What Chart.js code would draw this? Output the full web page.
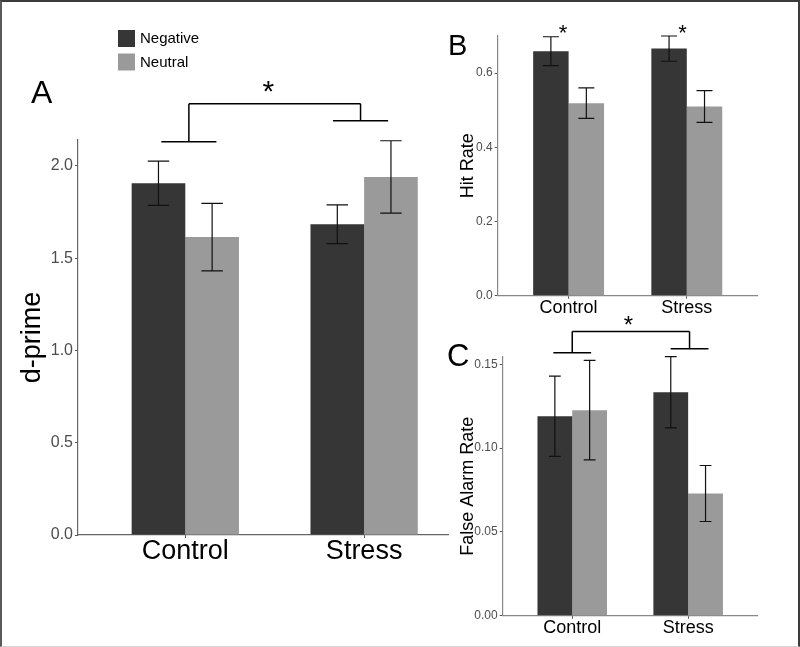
<!DOCTYPE html>
<html>
<head>
<meta charset="utf-8">
<script src="https://cdn.jsdelivr.net/npm/chart.js@4.4.1/dist/chart.umd.min.js"></script>
<style>
  html, body { margin: 0; padding: 0; background: #fff; }
  #frame { position: relative; width: 800px; height: 647px; overflow: hidden; }
  #border {
    position: absolute; left: 0; top: 0; width: 800px; height: 647px; box-sizing: border-box;
    border-left: 2px solid #5a5a5a; border-top: 2px solid #3c3c3c;
    border-right: 2px solid #3c3c3c; border-bottom: 1px solid #d4d4d4;
    pointer-events: none;
  }
  canvas { position: absolute; }
</style>
</head>
<body>
<div id="frame">
  <canvas id="chartA" width="450" height="647" style="left:0;top:0"></canvas>
  <canvas id="chartB" width="355" height="320" style="left:440px;top:0"></canvas>
  <canvas id="chartC" width="355" height="340" style="left:440px;top:300px"></canvas>
  <div id="border"></div>
</div>
<script>
const groups = ['Control', 'Stress'];
const seriesNames = ['Negative', 'Neutral'];
const seriesColors = ['#363636', '#9a9a9a'];

// A: d-prime (mean, standard error)
const dprimeNegative = [1.906, 1.684];
const dprimeNeutral = [1.614, 1.940];
const dprimeNegativeSE = [0.120, 0.105];
const dprimeNeutralSE = [0.183, 0.196];
const dprimeTicks = [0, 0.5, 1.0, 1.5, 2.0];

// B: hit rate
const hitNegative = [0.659, 0.666];
const hitNeutral = [0.519, 0.510];
const hitNegativeSE = [0.039, 0.034];
const hitNeutralSE = [0.041, 0.043];
const hitTicks = [0, 0.2, 0.4, 0.6];

// C: false alarm rate
const faNegative = [0.1190, 0.1333];
const faNeutral = [0.1226, 0.0729];
const faNegativeSE = [0.0239, 0.0212];
const faNeutralSE = [0.0297, 0.0167];
const faTicks = [0, 0.05, 0.10, 0.15];

// significance marks, in group units (x) and axis units (y)
const dprimeBracketX = [1.02, 1.98];
const dprimeBracketFeet = [2.13, 2.244];
const dprimeBracketTop = 2.336;
const dprimeStar = [1.464, 2.428];
const hitStarsX = [0.953, 1.963];
const hitStarsY = [0.72, 0.72];
const faBracketX = [1.0, 2.012];
const faBracketFeet = [0.1568, 0.1592];
const faBracketTop = 0.1696;
const faStar = [1.485, 0.176];

const FONT = '"Liberation Sans", Arial, Helvetica, sans-serif';
Chart.defaults.font.family = FONT;

const errorBarPlugin = {
    id: 'errorBars',
    afterDatasetsDraw(chart, args, opts) {
        const ctx = chart.ctx;
        const y = chart.scales.y;
        ctx.save();
        ctx.strokeStyle = '#111';
        ctx.lineWidth = 1.2;
        chart.data.datasets.forEach((ds, k) => {
            chart.getDatasetMeta(k).data.forEach((bar, i) => {
                const v = ds.data[i].y;
                const e = opts.se[k][i];
                const top = y.getPixelForValue(v + e);
                const bot = y.getPixelForValue(v - e);
                const half = bar.width * opts.cap / 2;
                ctx.beginPath();
                ctx.moveTo(bar.x, top); ctx.lineTo(bar.x, bot);
                ctx.moveTo(bar.x - half, top); ctx.lineTo(bar.x + half, top);
                ctx.moveTo(bar.x - half, bot); ctx.lineTo(bar.x + half, bot);
                ctx.stroke();
            });
        });
        ctx.restore();
    }
};

function drawStar(ctx, x, y, size) {
    ctx.font = `${size}px ${FONT}`;
    ctx.textAlign = 'center';
    ctx.textBaseline = 'alphabetic';
    const m = ctx.measureText('*');
    ctx.fillStyle = '#000';
    ctx.fillText('*', x, y + (m.actualBoundingBoxAscent - m.actualBoundingBoxDescent) / 2);
}

function drawLetter(ctx, text, x, baseline, size) {
    ctx.font = `${size}px ${FONT}`;
    ctx.textAlign = 'left';
    ctx.textBaseline = 'alphabetic';
    ctx.fillStyle = '#000';
    ctx.fillText(text, x, baseline);
}

function drawBracket(chart, xs, feet, top, half) {
    const X = chart.scales.x, Y = chart.scales.y, ctx = chart.ctx;
    const yTop = Y.getPixelForValue(top);
    ctx.save();
    ctx.strokeStyle = '#000';
    ctx.lineWidth = 1.5;
    ctx.beginPath();
    xs.forEach((gx, i) => {
        const fy = Y.getPixelForValue(feet[i]);
        ctx.moveTo(X.getPixelForValue(gx - half), fy);
        ctx.lineTo(X.getPixelForValue(gx + half), fy);
        ctx.moveTo(X.getPixelForValue(gx), fy);
        ctx.lineTo(X.getPixelForValue(gx), yTop);
    });
    ctx.moveTo(X.getPixelForValue(xs[0]), yTop);
    ctx.lineTo(X.getPixelForValue(xs[1]), yTop);
    ctx.stroke();
    ctx.restore();
}

function makeChart(id, p) {
    const values = [p.negative, p.neutral];
    return new Chart(document.getElementById(id), {
        type: 'bar',
        data: {
            datasets: seriesNames.map((name, k) => ({
                label: name,
                data: groups.map((g, i) => ({ x: i + 1, y: values[k][i] })),
                backgroundColor: seriesColors[k],
                borderWidth: 0,
                categoryPercentage: 0.6,
                barPercentage: 1.0
            }))
        },
        options: {
            responsive: false,
            animation: false,
            events: [],
            layout: { padding: p.padding },
            plugins: {
                legend: { display: false },
                tooltip: { enabled: false },
                errorBars: { se: [p.negativeSE, p.neutralSE], cap: p.cap }
            },
            scales: {
                x: {
                    type: 'linear',
                    min: 0.4,
                    max: p.xMax,
                    offset: false,
                    bounds: 'data',
                    afterFit: s => { s.height = p.xHeight; },
                    afterBuildTicks: s => { s.ticks = groups.map((g, i) => ({ value: i + 1 })); },
                    ticks: {
                        callback: v => groups[v - 1],
                        color: '#000',
                        font: { size: p.catSize, lineHeight: 1 },
                        padding: 0,
                        maxRotation: 0,
                        autoSkip: false
                    },
                    grid: { drawOnChartArea: false, tickLength: 3, color: '#555', offset: false },
                    border: { color: p.axisColor, width: 1.2 }
                },
                y: {
                    min: 0,
                    max: p.yMax,
                    bounds: 'data',
                    afterFit: s => { s.width = p.yWidth; },
                    afterBuildTicks: s => { s.ticks = p.ticks.map(v => ({ value: v })); },
                    ticks: {
                        callback: v => v.toFixed(p.decimals),
                        color: '#4d4d4d',
                        font: { size: p.tickSize },
                        padding: 2
                    },
                    grid: { drawOnChartArea: false, tickLength: 3, color: '#555' },
                    border: { color: p.axisColor, width: 1.2 },
                    title: {
                        display: true,
                        text: p.yTitle,
                        color: '#000',
                        font: { size: p.titleSize },
                        padding: { top: p.titlePad, bottom: 0 }
                    }
                }
            }
        },
        plugins: [errorBarPlugin, { id: 'extras', afterDraw: p.extras }]
    });
}

makeChart('chartA', {
    negative: dprimeNegative, neutral: dprimeNeutral,
    negativeSE: dprimeNegativeSE, neutralSE: dprimeNeutralSE,
    ticks: dprimeTicks, decimals: 1, yMax: 2.14, xMax: 2.469,
    padding: { top: 140, right: 2, left: 0, bottom: 0 },
    yWidth: 78, xHeight: 112, cap: 0.4, axisColor: '#666',
    yTitle: 'd-prime', titleSize: 27, titlePad: 16, tickSize: 16, catSize: 27,
    extras(chart) {
        const ctx = chart.ctx;
        drawBracket(chart, dprimeBracketX, dprimeBracketFeet, dprimeBracketTop, 0.154);
        drawStar(ctx, chart.scales.x.getPixelForValue(dprimeStar[0]), chart.scales.y.getPixelForValue(dprimeStar[1]), 30);
        drawLetter(ctx, 'A', 31, 103, 32);
        // legend
        ctx.save();
        seriesNames.forEach((name, k) => {
            const top = 30 + k * 23.5;
            ctx.fillStyle = seriesColors[k];
            ctx.fillRect(118, top, 17, 17);
            ctx.fillStyle = '#000';
            ctx.font = `15px ${FONT}`;
            ctx.textAlign = 'left';
            ctx.textBaseline = 'middle';
            ctx.fillText(name, 140, top + 9);
        });
        ctx.restore();
    }
});

makeChart('chartB', {
    negative: hitNegative, neutral: hitNeutral,
    negativeSE: hitNegativeSE, neutralSE: hitNeutralSE,
    ticks: hitTicks, decimals: 1, yMax: 0.70, xMax: 2.6,
    padding: { top: 36, right: 37.3, left: 0, bottom: 0 },
    yWidth: 57.7, xHeight: 24.3, cap: 0.45, axisColor: '#888',
    yTitle: 'Hit Rate', titleSize: 18, titlePad: 17, tickSize: 12, catSize: 18,
    extras(chart) {
        const ctx = chart.ctx;
        hitStarsX.forEach((gx, i) => {
            drawStar(ctx, chart.scales.x.getPixelForValue(gx), chart.scales.y.getPixelForValue(hitStarsY[i]), 22);
        });
        drawLetter(ctx, 'B', 8, 55, 29);
    }
});

makeChart('chartC', {
    negative: faNegative, neutral: faNeutral,
    negativeSE: faNegativeSE, neutralSE: faNeutralSE,
    ticks: faTicks, decimals: 2, yMax: 0.1545, xMax: 2.6,
    padding: { top: 56.7, right: 37.3, left: 0, bottom: 0 },
    yWidth: 62.7, xHeight: 24.3, cap: 0.34, axisColor: '#888',
    yTitle: 'False Alarm Rate', titleSize: 18, titlePad: 17, tickSize: 12, catSize: 18,
    extras(chart) {
        const ctx = chart.ctx;
        drawBracket(chart, faBracketX, faBracketFeet, faBracketTop, 0.163);
        drawStar(ctx, chart.scales.x.getPixelForValue(faStar[0]), chart.scales.y.getPixelForValue(faStar[1]), 24);
        drawLetter(ctx, 'C', 7, 65.5, 31);
    }
});
</script>
</body>
</html>
